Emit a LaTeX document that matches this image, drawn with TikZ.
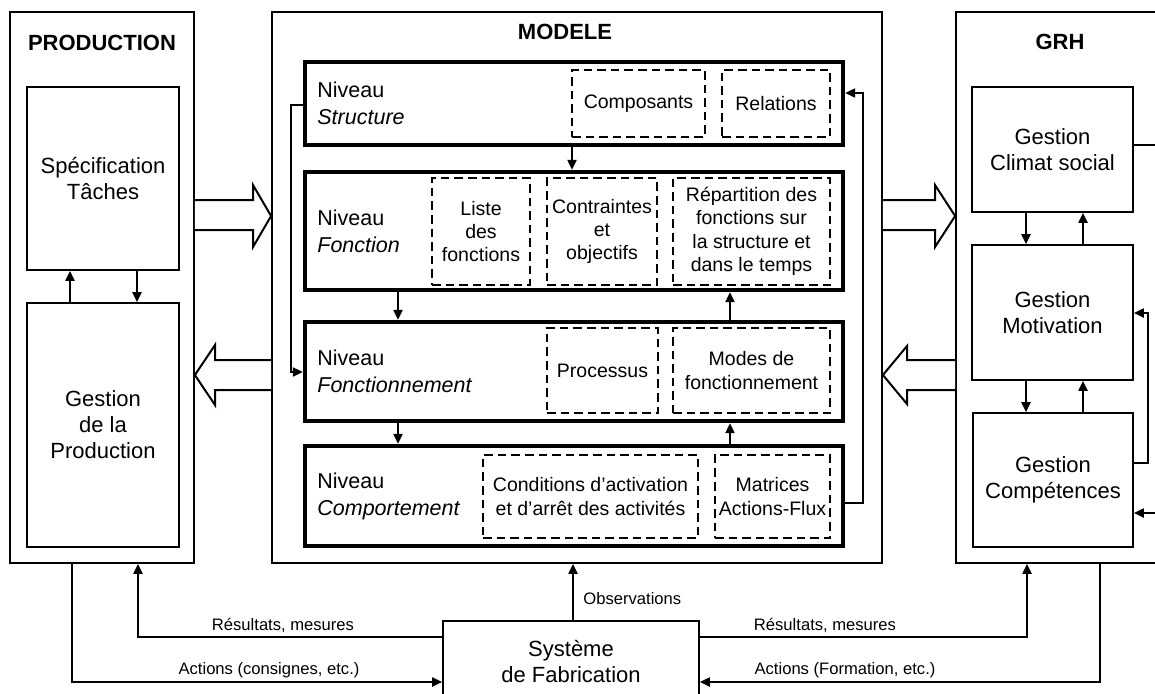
\documentclass[tikz,border=0pt]{standalone}
\usepackage{fontspec}
\setmainfont{Liberation Sans}
\usetikzlibrary{arrows.meta}
\begin{document}
\begin{tikzpicture}[x=0.5pt,y=-0.5pt,
  box/.style={draw,line width=0.9pt,inner sep=0pt,align=center,font=\fontsize{11}{13}\selectfont},
  lvl/.style={draw,line width=2.2pt,inner sep=0pt},
  dbox/.style={draw,line width=1.3pt,dash pattern=on 4.3pt off 2.5pt,inner sep=0pt,align=center,font=\fontsize{9.75}{11.7}\selectfont},
  lvltxt/.style={anchor=west,align=left,inner sep=0pt,font=\fontsize{10.75}{13.5}\selectfont},
  ttl/.style={inner sep=0pt,font=\fontsize{11}{13}\selectfont\bfseries},
  lbl/.style={font=\fontsize{8.3}{10}\selectfont,inner sep=0pt},
  arr/.style={line width=0.8pt,-{Triangle[length=5pt,width=4.6pt]}},
  ln/.style={line width=0.8pt},
  hollow/.style={line width=1pt,fill=white,line join=miter}]
\useasboundingbox (0,0) rectangle (1155,693);
\fill[white] (0,0) rectangle (1155,693);
\clip (0,0) rectangle (1155,693);

% ---------- PRODUCTION ----------
\node[box,minimum width=92pt,minimum height=275.5pt] (prod) at (102,287.5) {};
\node[ttl] (prodt) at (102,43) {PRODUCTION};
\node[box,minimum width=76pt,minimum height=91.5pt] (spec) at (103,178.5) {Spécification\\Tâches};
\node[box,minimum width=76pt,minimum height=122pt] (gprod) at (103,425) {Gestion\\de la\\Production};
\draw[arr] (gprod.north -| 70,0) -- (spec.south -| 70,0);
\draw[arr] (spec.south -| 137,0) -- (gprod.north -| 137,0);

% ---------- MODELE ----------
\node[box,minimum width=305pt,minimum height=275.5pt] (modele) at (577,287.5) {};
\node[ttl] (modelet) at (565,32) {MODELE};

\node[lvl,minimum width=269pt,minimum height=41.5pt] (ns) at (574,103.5) {};
\node[lvl,minimum width=269pt,minimum height=59pt] (nf) at (574,231) {};
\node[lvl,minimum width=269pt,minimum height=49.5pt] (nft) at (574,371.5) {};
\node[lvl,minimum width=269pt,minimum height=50pt] (nc) at (574,496) {};

\node[lvltxt] (nst) at (317,103.5) {Niveau\\\textit{Structure}};
\node[lvltxt] (nft1) at (317,231) {Niveau\\\textit{Fonction}};
\node[lvltxt] (nftt) at (317,371.5) {Niveau\\\textit{Fonctionnement}};
\node[lvltxt] (nct) at (317,496) {Niveau\\\textit{Comportement}};

\node[dbox,minimum width=66.5pt,minimum height=33.5pt] (compo) at (638.5,103.5) {Composants};
\node[dbox,minimum width=54pt,minimum height=33.5pt] (rel) at (776,103.5) {Relations};
\node[dbox,minimum width=49pt,minimum height=53.5pt] (liste) at (481,231.5) {Liste\\des\\fonctions};
\node[dbox,minimum width=55pt,minimum height=53.5pt] (contr) at (602,231.5) {Contraintes\\et\\objectifs};
\node[dbox,minimum width=78.5pt,minimum height=53.5pt] (repart) at (751.5,231.5) {Répartition des\\fonctions sur\\la structure et\\dans le temps};
\node[dbox,minimum width=55.5pt,minimum height=42.5pt] (proc) at (602.5,370.5) {Processus};
\node[dbox,minimum width=78.5pt,minimum height=42.5pt] (modes) at (751.5,370.5) {Modes de\\fonctionnement};
\node[dbox,minimum width=107.5pt,minimum height=41.5pt] (cond) at (590.5,496.5) {Conditions d’activation\\et d’arrêt des activités};
\node[dbox,minimum width=57.5pt,minimum height=41.5pt] (matr) at (772.5,496.5) {Matrices\\Actions-Flux};

\draw[arr] (ns.south -| 572,0) -- (nf.north -| 572,0);
\draw[arr] (nf.south -| 398,0) -- (nft.north -| 398,0);
\draw[arr] (nft.north -| 730,0) -- (nf.south -| 730,0);
\draw[arr] (nft.south -| 398,0) -- (nc.north -| 398,0);
\draw[arr] (nc.north -| 730,0) -- (nft.south -| 730,0);
\draw[arr] (ns.west |- 0,105) -- (291,105) -- (291,372) -- (nft.west |- 0,372);
\draw[arr] (nc.east |- 0,503) -- (863,503) -- (863,93) -- (ns.east |- 0,93);

% ---------- GRH ----------
\node[box,minimum width=117pt,minimum height=275.5pt] (grh) at (1073,287.5) {};
\node[ttl] (grht) at (1060,42) {GRH};
\node[box,minimum width=80.5pt,minimum height=62.5pt] (clim) at (1052.5,149.5) {Gestion\\Climat social};
\node[box,minimum width=80.5pt,minimum height=67.5pt] (motiv) at (1052.5,312.5) {Gestion\\Motivation};
\node[box,minimum width=80pt,minimum height=67pt] (comp) at (1053,480) {Gestion\\Compétences};
\draw[arr] (clim.south -| 1026,0) -- (motiv.north -| 1026,0);
\draw[arr] (motiv.north -| 1083,0) -- (clim.south -| 1083,0);
\draw[arr] (motiv.south -| 1026,0) -- (comp.north -| 1026,0);
\draw[arr] (comp.north -| 1083,0) -- (motiv.south -| 1083,0);
\coordinate (climout) at (1170,145);
\coordinate (compin) at (1170,513);
\draw[ln] (clim.east |- climout) -- (climout);
\draw[arr] (comp.east |- 0,463) -- (1148,463) -- (1148,313) -- (motiv.east |- 0,313);
\draw[arr] (compin) -- (comp.east |- compin);

% ---------- big hollow arrows ----------
\draw[hollow] (prod.east |- 0,200) -- (253,200) -- (253,185) -- (modele.west |- 0,216) -- (253,247) -- (253,230) -- (prod.east |- 0,230);
\draw[hollow] (modele.west |- 0,360) -- (215,360) -- (215,345) -- (prod.east |- 0,375) -- (215,405) -- (215,390) -- (modele.west |- 0,390);
\draw[hollow] (modele.east |- 0,200) -- (935,200) -- (935,185) -- (grh.west |- 0,216) -- (935,247) -- (935,230) -- (modele.east |- 0,230);
\draw[hollow] (grh.west |- 0,360) -- (907,360) -- (907,346) -- (modele.east |- 0,375) -- (907,404) -- (907,390) -- (grh.west |- 0,390);

% ---------- Système de Fabrication ----------
\node[box,minimum width=128pt,minimum height=40.5pt] (sys) at (571,661.5) {Système\\de Fabrication};
\draw[arr] (sys.north -| 573,0) -- (modele.south -| 573,0);
\node[lbl,anchor=west] (obs) at (583,599) {Observations};

\draw[arr] (sys.west |- 0,637) -- (138,637) -- (prod.south -| 138,0);
\node[lbl,anchor=south] (res1) at (283,633) {Résultats, mesures};
\draw[arr] (prod.south -| 72,0) -- (72,682) -- (sys.west |- 0,682);
\node[lbl,anchor=south] (act1) at (269,678) {Actions (consignes, etc.)};

\draw[arr] (sys.east |- 0,637) -- (1027,637) -- (grh.south -| 1027,0);
\node[lbl,anchor=south] (res2) at (825,633) {Résultats, mesures};
\draw[arr] (grh.south -| 1100,0) -- (1100,682) -- (sys.east |- 0,682);
\node[lbl,anchor=south] (act2) at (845,678) {Actions (Formation, etc.)};
\end{tikzpicture}
\end{document}
